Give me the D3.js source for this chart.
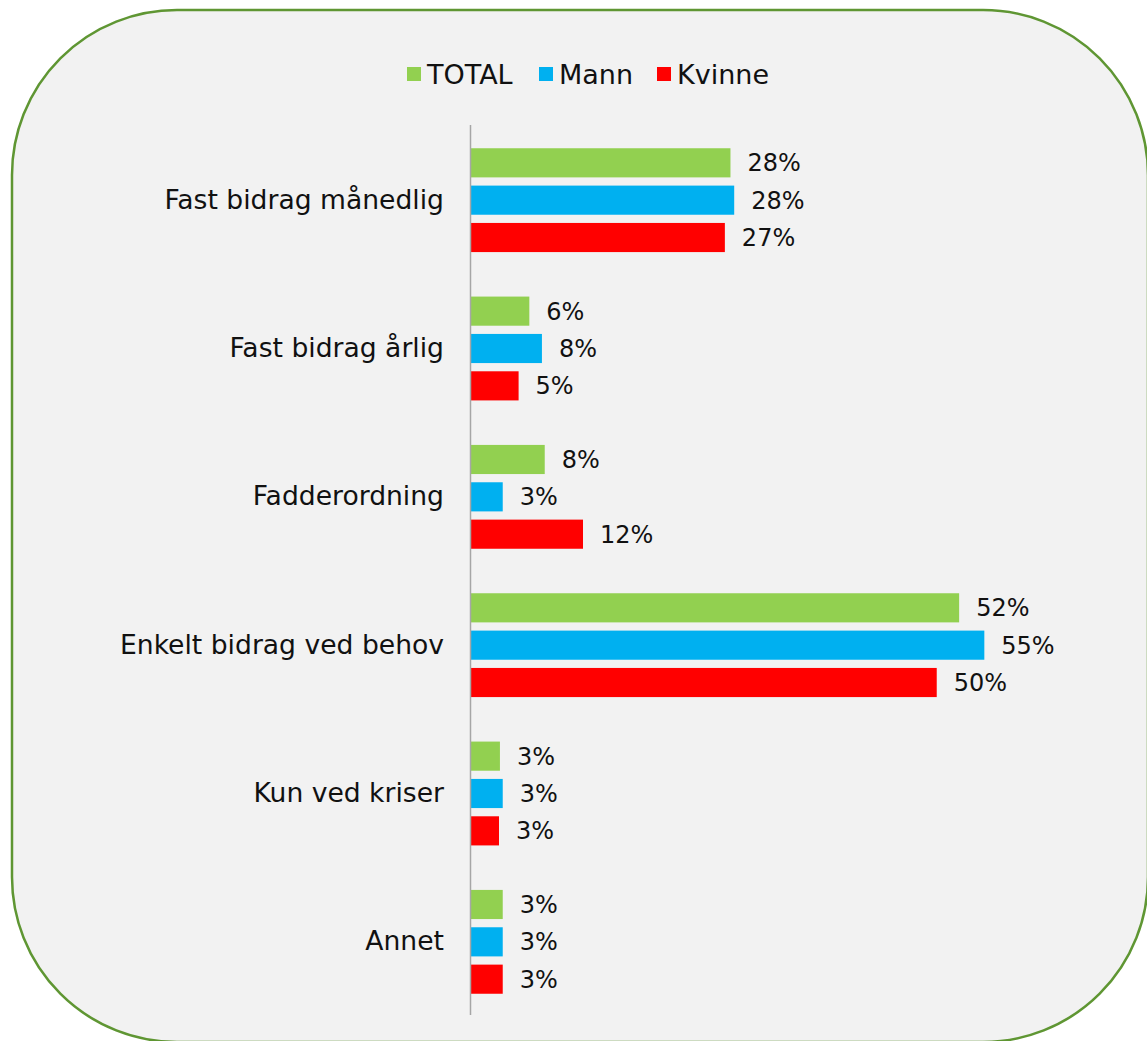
<!DOCTYPE html>
<html lang="no">
<head>
    <meta charset="UTF-8">
    <title>Bidrag</title>
    <style>
        body { margin: 0; background: #fff; }
        text { font-family: Verdana, "DejaVu Sans", sans-serif; fill: #111; }
    </style>
</head>
<body>
    <div class="chart"></div>

    <script src="https://d3js.org/d3.v7.min.js"></script>
    <script>
        // data
        var categories = ["Fast bidrag månedlig", "Fast bidrag årlig", "Fadderordning",
                          "Enkelt bidrag ved behov", "Kun ved kriser", "Annet"]
        var series = ["TOTAL", "Mann", "Kvinne"]
        var total  = [27.8, 6.25, 7.9, 52.3, 3.1, 3.4]
        var mann   = [28.2, 7.6, 3.4, 55.0, 3.4, 3.4]
        var kvinne = [27.2, 5.1, 12.0, 49.9, 3.0, 3.4]
        var colors = ["#92d050", "#00b0f0", "#ff0000"]

        var width = 1147
        var height = 1041
        var values = [total, mann, kvinne]

        var svg = d3.select(".chart").append("svg")
            .attr("width", width)
            .attr("height", height)

        // rounded panel
        svg.append("rect")
            .attr("x", 12).attr("y", 10)
            .attr("width", 1136).attr("height", 1032)
            .attr("rx", 165).attr("ry", 165)
            .style("fill", "#f2f2f2")
            .style("stroke", "#5f9633")
            .style("stroke-width", 2.5)

        var x = d3.scaleLinear().domain([0, 60]).range([471, 471 + 560])

        var y0 = d3.scaleBand()
            .domain(categories)
            .range([126, 1016])
            .paddingInner(0.3)
            .paddingOuter(0.15)

        var y1 = d3.scaleBand()
            .domain(series)
            .range([0, y0.bandwidth()])
            .paddingInner(0.22)

        var rows = []
        categories.forEach(function(c, i) {
            series.forEach(function(s, j) {
                rows.push({cat: c, ser: s, val: values[j][i], color: colors[j]})
            })
        })

        var g = svg.append("g")

        g.selectAll("rect.bar")
            .data(rows)
            .enter()
            .append("rect")
            .attr("class", "bar")
            .attr("x", x(0))
            .attr("y", function(d) { return y0(d.cat) + y1(d.ser) })
            .attr("width", function(d) { return x(d.val) - x(0) })
            .attr("height", y1.bandwidth())
            .style("fill", function(d) { return d.color })

        g.selectAll("text.val")
            .data(rows)
            .enter()
            .append("text")
            .attr("class", "val")
            .attr("x", function(d) { return x(d.val) + 17 })
            .attr("y", function(d) { return y0(d.cat) + y1(d.ser) + y1.bandwidth() / 2 })
            .attr("dy", "0.36em")
            .style("font-size", "24px")
            .text(function(d) { return Math.round(d.val) + "%" })

        // category axis
        var yAxis = d3.axisLeft(y0).tickSize(0).tickPadding(27)
        var ax = svg.append("g")
            .attr("transform", "translate(" + x(0) + ",0)")
            .call(yAxis)
        ax.select(".domain").remove()
        ax.selectAll("text")
            .style("font-size", "26.6px")
            .style("font-family", "Verdana, 'DejaVu Sans', sans-serif")
            .attr("fill", "#111")

        svg.append("line")
            .attr("x1", x(0) - 0.5).attr("x2", x(0) - 0.5)
            .attr("y1", 125).attr("y2", 1015)
            .style("stroke", "#a6a6a6")
            .style("stroke-width", 1.5)

        // legend
        var legendX = [407, 539, 657]
        var legend = svg.append("g").selectAll("g")
            .data(series)
            .enter()
            .append("g")
            .attr("transform", function(d, i) { return "translate(" + legendX[i] + ",67)" })
        legend.append("rect")
            .attr("width", 14).attr("height", 14)
            .style("fill", function(d, i) { return colors[i] })
        legend.append("text")
            .attr("x", 20).attr("y", 7)
            .attr("dy", "0.36em")
            .style("font-size", "27px")
            .text(function(d) { return d })
    </script>
</body>
</html>
